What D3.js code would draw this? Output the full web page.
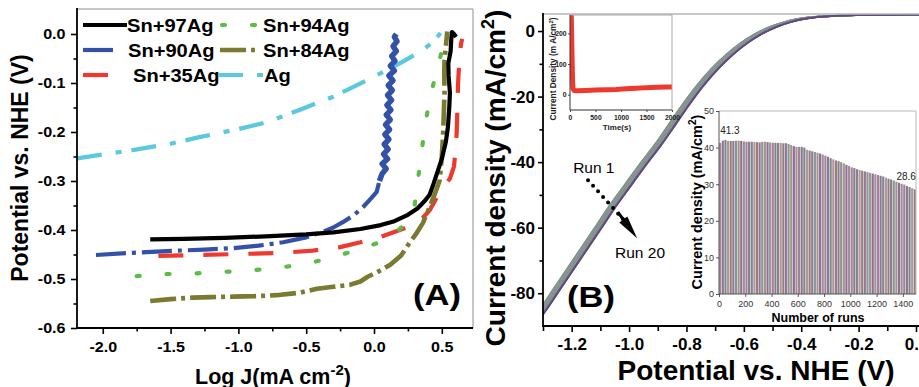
<!DOCTYPE html>
<html><head><meta charset="utf-8">
<script src="https://cdn.jsdelivr.net/npm/d3@7"></script>
<style>body{margin:0;background:#fff}svg{display:block}text{font-family:"Liberation Sans",Arial,sans-serif}</style>
</head><body><svg id="c" width="919" height="387"></svg>
<script>
// ===================== DATA =====================
// Panel A : Tafel-like polarisation curves  [log J, potential V]
const seriesA = ["Sn+97Ag","Sn+94Ag","Sn+90Ag","Sn+84Ag","Sn+35Ag","Ag"];
const sn97 = [[-1.65,-0.419],[-1.4,-0.418],[-1.1,-0.416],[-0.8,-0.413],[-0.5,-0.409],[-0.3,-0.405],[-0.1,-0.398],[0.05,-0.39],[0.15,-0.382],[0.25,-0.369],[0.32,-0.356],[0.37,-0.342],[0.41,-0.328],[0.44,-0.305],[0.47,-0.28],[0.5,-0.255],[0.53,-0.22],[0.545,-0.19],[0.555,-0.15],[0.56,-0.12],[0.55,-0.085],[0.548,-0.06],[0.565,-0.035],[0.57,-0.01],[0.575,0.004],[0.59,0.0],[0.605,-0.006]];
const sn94 = [[-1.75,-0.494],[-1.53,-0.49],[-1.26,-0.488],[-0.89,-0.482],[-0.67,-0.476],[-0.45,-0.466],[-0.3,-0.455],[-0.15,-0.443],[-0.05,-0.434],[0.05,-0.424],[0.12,-0.414],[0.19,-0.398],[0.24,-0.383],[0.28,-0.365],[0.3,-0.349],[0.31,-0.325],[0.33,-0.285],[0.35,-0.243],[0.37,-0.2],[0.39,-0.165],[0.41,-0.135],[0.44,-0.1],[0.47,-0.067],[0.5,-0.035],[0.52,-0.012],[0.54,0.002]];
const sn90 = [[-2.05,-0.451],[-1.82,-0.447],[-1.53,-0.443],[-1.25,-0.44],[-1.04,-0.437],[-0.85,-0.432],[-0.67,-0.425],[-0.5,-0.415],[-0.38,-0.404],[-0.3,-0.395],[-0.23,-0.384],[-0.15,-0.37],[-0.08,-0.353],[-0.02,-0.335],[0.02,-0.322],[0.04,-0.3],[0.06,-0.285],[0.09,-0.275],[0.06,-0.265],[0.1,-0.255],[0.07,-0.245],[0.105,-0.235],[0.075,-0.225],[0.11,-0.215],[0.08,-0.205],[0.115,-0.195],[0.085,-0.185],[0.12,-0.175],[0.09,-0.165],[0.125,-0.155],[0.095,-0.145],[0.13,-0.135],[0.1,-0.125],[0.135,-0.115],[0.105,-0.105],[0.14,-0.095],[0.11,-0.085],[0.15,-0.075],[0.12,-0.065],[0.155,-0.055],[0.13,-0.045],[0.165,-0.035],[0.14,-0.025],[0.17,-0.015],[0.15,-0.006],[0.165,0.0]];
const sn84 = [[-1.65,-0.545],[-1.5,-0.541],[-1.34,-0.538],[-1.2,-0.537],[-1.04,-0.536],[-0.88,-0.535],[-0.72,-0.533],[-0.55,-0.528],[-0.42,-0.52],[-0.3,-0.516],[-0.18,-0.512],[-0.1,-0.505],[-0.05,-0.496],[0.03,-0.485],[0.12,-0.471],[0.2,-0.452],[0.26,-0.427],[0.31,-0.408],[0.36,-0.386],[0.4,-0.36],[0.43,-0.339],[0.46,-0.318],[0.485,-0.298],[0.5,-0.25],[0.51,-0.2],[0.515,-0.16],[0.52,-0.12],[0.518,-0.08],[0.52,-0.053],[0.53,-0.025],[0.54,0.005]];
const sn35 = [[-1.59,-0.453],[-1.3,-0.451],[-1.0,-0.449],[-0.7,-0.447],[-0.45,-0.442],[-0.25,-0.435],[-0.1,-0.425],[0.05,-0.414],[0.17,-0.402],[0.29,-0.39],[0.36,-0.375],[0.41,-0.36],[0.46,-0.335],[0.52,-0.31],[0.56,-0.295],[0.59,-0.27],[0.6,-0.24],[0.61,-0.2],[0.615,-0.15],[0.62,-0.1],[0.628,-0.06],[0.635,-0.035],[0.642,-0.02],[0.65,-0.01]];
const agCurve = [[-2.19,-0.254],[-2.0,-0.246],[-1.78,-0.237],[-1.5,-0.224],[-1.28,-0.21],[-1.0,-0.194],[-0.79,-0.18],[-0.55,-0.155],[-0.3,-0.128],[-0.05,-0.094],[0.19,-0.06],[0.36,-0.033],[0.44,-0.015],[0.49,0.002]];
const aXTicks = [-2.0,-1.5,-1.0,-0.5,0.0,0.5];
const aXMinor = [-1.75,-1.25,-0.75,-0.25,0.25];
const aYTicks = [0.0,-0.1,-0.2,-0.3,-0.4,-0.5,-0.6];
const aYMinor = [-0.05,-0.15,-0.25,-0.35,-0.45,-0.55];

// Panel B : LSV curves over 20 runs
const lsvV = [-1.32,-1.30,-1.25,-1.20,-1.15,-1.10,-1.05,-1.00,-0.95,-0.90,-0.85,-0.80,-0.75,-0.70,-0.65,-0.60,-0.55,-0.50,-0.45,-0.40,-0.35,-0.30,-0.20,-0.10,0.00,0.05];
const lsvJ = [-87.5,-85,-78.5,-72,-65.5,-59,-52.5,-46.5,-40.5,-34.8,-28.5,-22.2,-16.4,-11.4,-7.2,-3.7,-0.9,1.2,2.7,3.7,4.3,4.6,4.85,4.95,5.0,5.0];
const runShift = [-0.012,-0.011,-0.0095,-0.008,-0.007,-0.0055,-0.004,-0.003,-0.0015,0,0.001,0.0025,0.004,0.005,0.0065,0.008,0.009,0.0105,0.0115,0.0125];
const bXTicks = [-1.2,-1.0,-0.8,-0.6,-0.4,-0.2,0.0];
const bXMinor = [-1.3,-1.1,-0.9,-0.7,-0.5,-0.3,-0.1];
const bYTicks = [0,-20,-40,-60,-80];
const bYMinor = [-10,-30,-50,-70];

// Inset (top-left) : chronoamperometry
const tlTime = [18,26,34,42,50,58,80,150,300,500,700,900,1100,1300,1500,1700,1900,2000];
const tlCurr = [300,250,180,110,50,20,14,13,14,15,16,17,19,21,23,24,25,25];
const tlXTicks = [0,500,1000,1500,2000];
const tlYTicks = [0,100,200];

// Inset (bottom-right) : current density vs number of runs (one bar per 20 runs)
const barValues = [41.3,41.9,42.1,41.8,41.8,41.8,41.9,41.9,41.8,41.7,41.6,41.6,41.6,41.5,41.5,41.4,41.6,41.6,41.5,41.4,41.3,41.3,41.3,41.3,41.2,41.2,41.0,40.7,40.4,40.2,40.2,40.2,40.0,39.4,39.2,39.0,38.8,38.6,38.4,38.1,37.8,37.5,37.1,36.8,36.5,36.3,36.0,35.7,35.3,35.0,34.6,34.4,34.1,33.9,33.7,33.5,33.3,33.1,32.9,32.7,32.5,32.3,32.1,31.8,31.5,31.3,31.0,30.7,30.4,30.1,29.9,29.5,29.2,28.9,28.6];
const brXTicks = [0,200,400,600,800,1000,1200,1400];
const brYTicks = [0,10,20,30,40,50];

// ===================== STYLE =====================
const F = '"Liberation Sans", Arial, sans-serif';
const styleA = {
  "Sn+97Ag":{c:"#000000",dash:null,w:4.2,cap:"butt"},
  "Sn+94Ag":{c:"#5cbc48",dash:"3,27",w:4.2,cap:"round"},
  "Sn+90Ag":{c:"#3451a8",dash:"30,6,4,6",w:4.2,cap:"butt"},
  "Sn+84Ag":{c:"#7b7a30",dash:"26,5,4,5",w:4.6,cap:"butt"},
  "Sn+35Ag":{c:"#ee3a2e",dash:"25,20",w:4.2,cap:"butt"},
  "Ag":{c:"#5cc8de",dash:"25,14,6,10",w:4.2,cap:"butt"}
};
const dataA = {"Sn+97Ag":sn97,"Sn+94Ag":sn94,"Sn+90Ag":sn90,"Sn+84Ag":sn84,"Sn+35Ag":sn35,"Ag":agCurve};
const runColors = ["#8a8a8a","#8d8f8d","#7f9a8a","#6f9a8a","#8a9a78","#9b8ca6","#6e9f9f","#8a9a8a","#7fa08a","#a0889c","#6c9486","#8f9a80","#7d8da5","#94a08e","#6f8f7f","#8a9f9f","#9a7a9a","#7a6a8f","#6a5a8a","#5e4a7e"];
const barColors = ["#a88098","#8a7a92","#7a8a84","#b890a8","#8c8676","#9a7490","#80989a","#a69486","#8e6e96","#9a9298"];

const svg = d3.select("#c");
svg.append("rect").attr("width",919).attr("height",387).attr("fill","#fff");
const fmt1 = d => d3.format(".1f")(d).replace("\u2212","-");
const fmt0 = d => d3.format("d")(d).replace("\u2212","-");

function styleAxis(g, o){
  g.select(".domain").remove();
  g.selectAll(".tick line").attr("stroke",o.color||"#000").attr("stroke-width",o.sw||1.6);
  g.selectAll(".tick text").attr("font-family",F).attr("font-size",o.fs||12)
   .attr("font-weight",o.bold?"bold":"normal").attr("fill",o.color||"#000");
  if(o.sx) g.selectAll(".tick text").attr("transform",`scale(${o.sx},1)`);
  return g;
}
function line(x1,y1,x2,y2,c,w){svg.append("line").attr("x1",x1).attr("y1",y1).attr("x2",x2).attr("y2",y2).attr("stroke",c).attr("stroke-width",w);}

// ===================== PANEL A =====================
const xA = d3.scaleLinear().domain([-2.19,0.73]).range([77,473]);
const yA = d3.scaleLinear().domain([-0.6,0.051]).range([328,9]);
svg.append("clipPath").attr("id","clipA").append("rect").attr("x",77).attr("y",9).attr("width",396).attr("height",319);
const lineA = d3.line().x(d=>xA(d[0])).y(d=>yA(d[1]));
const gA = svg.append("g").attr("clip-path","url(#clipA)");
["Sn+35Ag","Sn+84Ag","Sn+94Ag","Ag","Sn+90Ag","Sn+97Ag"].forEach(k=>{
  const s=styleA[k];
  if(k==="Sn+90Ag"){
    // sloped part dash-dot, noisy vertical part rendered as a dense solid band
    const lower = dataA[k].filter(d=>d[1]<=-0.3), upper = dataA[k].filter(d=>d[1]>=-0.3);
    gA.append("path").datum(lower).attr("d",lineA).attr("fill","none").attr("stroke",s.c)
      .attr("stroke-width",s.w).attr("stroke-dasharray",s.dash).attr("stroke-linejoin","round");
    gA.append("path").datum(upper).attr("d",lineA).attr("fill","none").attr("stroke",s.c)
      .attr("stroke-width",5.5).attr("stroke-linejoin","round");
    return;
  }
  gA.append("path").datum(dataA[k]).attr("d",lineA).attr("fill","none")
    .attr("stroke",s.c).attr("stroke-width",s.w).attr("stroke-dasharray",s.dash)
    .attr("stroke-linecap",s.cap).attr("stroke-linejoin","round");
});
// frame
line(77,9,473,9,"#b4b4b4",1.5); line(473,9,473,328,"#b4b4b4",1.5);
line(77,8,77,329,"#000",1.8); line(76,328,473,328,"#000",1.8);
styleAxis(svg.append("g").attr("transform","translate(0,328)").call(d3.axisBottom(xA).tickValues(aXTicks).tickSize(6).tickPadding(8).tickFormat(fmt1)),{fs:14,bold:true,sx:1.15});
styleAxis(svg.append("g").attr("transform","translate(0,328)").call(d3.axisBottom(xA).tickValues(aXMinor).tickSize(3.5).tickFormat("")),{});
styleAxis(svg.append("g").attr("transform","translate(77,0)").call(d3.axisLeft(yA).tickValues(aYTicks).tickSize(6).tickPadding(4).tickFormat(fmt1)),{fs:14,bold:true,sx:1.15});
styleAxis(svg.append("g").attr("transform","translate(77,0)").call(d3.axisLeft(yA).tickValues(aYMinor).tickSize(3.5).tickFormat("")),{});
// titles
svg.append("text").attr("transform","translate(28,168) rotate(-90)").attr("text-anchor","middle")
  .attr("font-size",23).attr("font-weight","bold").text("Potential vs. NHE (V)");
const tA = svg.append("text").attr("x",195).attr("y",384).attr("font-size",21.5).attr("font-weight","bold");
tA.append("tspan").text("Log J(mA cm");
tA.append("tspan").attr("font-size",15).attr("dy",-9).text("-2");
tA.append("tspan").attr("dy",9).text(")");
svg.append("text").attr("transform","translate(413,305) scale(1.15,1)").attr("font-size",30).attr("font-weight","bold").text("(A)");
// legend
const legItems = [
  {k:"Sn+97Ag",x1:83,x2:127,tx:127,y:25},
  {k:"Sn+90Ag",x1:83,x2:116,tx:128,y:50},
  {k:"Sn+35Ag",x1:83,x2:110,tx:133,y:75},
  {k:"Sn+94Ag",x1:222,x2:256,tx:263,y:25},
  {k:"Sn+84Ag",x1:220,x2:257,tx:263,y:50},
  {k:"Ag",x1:218,x2:264,tx:264,y:75}
];
legItems.forEach(it=>{
  const s=styleA[it.k];
  svg.append("line").attr("x1",it.x1).attr("x2",it.x2).attr("y1",it.y).attr("y2",it.y)
    .attr("stroke",s.c).attr("stroke-width",s.w).attr("stroke-dasharray",s.dash).attr("stroke-linecap",s.cap);
  svg.append("text").attr("transform",`translate(${it.tx},${it.y+7}) scale(1.15,1)`)
    .attr("font-size",17.5).attr("font-weight","bold").text(it.k);
});

// ===================== PANEL B =====================
const xB = d3.scaleLinear().domain([-1.3,0.0]).range([543,916]);
const yB = d3.scaleLinear().domain([-90,5.2]).range([326,14]);
svg.append("clipPath").attr("id","clipB").append("rect").attr("x",543).attr("y",14).attr("width",376).attr("height",312);
const gB = svg.append("g").attr("clip-path","url(#clipB)");
runShift.forEach((sh,r)=>{
  const pts = lsvV.map((v,i)=>[v+sh,lsvJ[i]]);
  gB.append("path").datum(pts)
    .attr("d",d3.line().x(d=>xB(d[0])).y(d=>yB(d[1])).curve(d3.curveMonotoneX))
    .attr("fill","none").attr("stroke",runColors[r]).attr("stroke-width",1.7);
});
line(543,14,919,14,"#b4b4b4",1.5);
line(543,13,543,327,"#000",1.8); line(542,326,919,326,"#000",1.8);
styleAxis(svg.append("g").attr("transform","translate(0,326)").call(d3.axisBottom(xB).tickValues(bXTicks).tickSize(6).tickPadding(6).tickFormat(fmt1)),{fs:17,bold:true});
styleAxis(svg.append("g").attr("transform","translate(0,326)").call(d3.axisBottom(xB).tickValues(bXMinor).tickSize(5).tickFormat("")),{});
styleAxis(svg.append("g").attr("transform","translate(543,0)").call(d3.axisLeft(yB).tickValues(bYTicks).tickSize(5).tickPadding(3).tickFormat(fmt0)),{fs:17,bold:true});
styleAxis(svg.append("g").attr("transform","translate(543,0)").call(d3.axisLeft(yB).tickValues(bYMinor).tickSize(3.5).tickFormat("")),{});
const tBy = svg.append("text").attr("transform","translate(505,178) rotate(-90)").attr("text-anchor","middle")
  .attr("font-size",28).attr("font-weight","bold");
tBy.append("tspan").text("Current density (mA/cm");
tBy.append("tspan").attr("font-size",18).attr("dy",-11).text("2");
tBy.append("tspan").attr("dy",11).text(")");
svg.append("text").attr("x",756).attr("y",380).attr("text-anchor","middle").attr("font-size",28).attr("font-weight","bold").text("Potential vs. NHE (V)");
svg.append("text").attr("transform","translate(567,307) scale(1.15,1)").attr("font-size",30).attr("font-weight","bold").text("(B)");
// run annotation (data coordinates)
const arrowFrom = [-1.143,-45.5], arrowTo = [-1.02,-57.5], arrowTip = [-0.972,-63.2];
svg.append("text").attr("x",xB(-1.195)).attr("y",yB(-43.3)).attr("font-size",15.5).text("Run 1");
svg.append("text").attr("x",xB(-1.049)).attr("y",yB(-69.2)).attr("font-size",15.5).text("Run 20");
svg.append("line").attr("x1",xB(arrowFrom[0])).attr("y1",yB(arrowFrom[1])).attr("x2",xB(arrowTo[0])).attr("y2",yB(arrowTo[1]))
  .attr("stroke","#000").attr("stroke-width",4).attr("stroke-linecap","round").attr("stroke-dasharray","0,7.5");
{
  const bx=xB(arrowTo[0]), by=yB(arrowTo[1]), tx=xB(arrowTip[0]), ty=yB(arrowTip[1]);
  const dx=tx-bx, dy=ty-by, L=Math.hypot(dx,dy), nx=-dy/L, ny=dx/L, hw=5;
  svg.append("path").attr("d",`M${bx+nx*hw},${by+ny*hw}L${tx},${ty}L${bx-nx*hw},${by-ny*hw}Z`).attr("fill","#000");
  svg.append("line").attr("x1",bx-dx*0.4).attr("y1",by-dy*0.4).attr("x2",bx).attr("y2",by).attr("stroke","#000").attr("stroke-width",3);
}

// ===================== INSET TOP-LEFT =====================
const xT = d3.scaleLinear().domain([0,2000]).range([570,672]);
const yT = d3.scaleLinear().domain([-50,260]).range([110,15]);
svg.append("rect").attr("x",570).attr("y",15).attr("width",102).attr("height",95).attr("fill","#fff");
svg.append("clipPath").attr("id","clipT").append("rect").attr("x",570).attr("y",15).attr("width",102).attr("height",95);
svg.append("path").datum(tlTime.map((t,i)=>[t,tlCurr[i]])).attr("clip-path","url(#clipT)")
  .attr("d",d3.line().x(d=>xT(d[0])).y(d=>yT(d[1]))).attr("fill","none").attr("stroke","#ee3a2e").attr("stroke-width",5).attr("stroke-linejoin","round");
line(570,15,672,15,"#a8a8a8",1); line(672,15,672,110,"#a8a8a8",1);
line(570,15,570,110,"#333",1); line(570,110,672,110,"#333",1);
styleAxis(svg.append("g").attr("transform","translate(0,110)").call(d3.axisBottom(xT).tickValues(tlXTicks).tickSize(2).tickPadding(3).tickFormat(fmt0)),{fs:6.8,bold:true,sw:0.8,color:"#222"});
styleAxis(svg.append("g").attr("transform","translate(570,0)").call(d3.axisLeft(yT).tickValues(tlYTicks).tickSize(2).tickPadding(1.5).tickFormat(fmt0)),{fs:6.8,bold:true,sw:0.8,color:"#222"});
svg.append("text").attr("x",617).attr("y",130).attr("text-anchor","middle").attr("font-size",8).attr("font-weight","bold").attr("fill","#222").text("Time(s)");
const tTy = svg.append("text").attr("transform","translate(556,69) rotate(-90)").attr("text-anchor","middle").attr("font-size",8.3).attr("font-weight","bold").attr("fill","#222");
tTy.append("tspan").text("Current Density (m A/cm");
tTy.append("tspan").attr("font-size",6).attr("dy",-3.5).text("2");
tTy.append("tspan").attr("dy",3.5).text(")");

// ===================== INSET BOTTOM-RIGHT =====================
const xR = d3.scaleLinear().domain([0,1500]).range([719,916]);
const yR = d3.scaleLinear().domain([0,50]).range([294,111]);
const bandR = d3.scaleBand().domain(d3.range(barValues.length)).range([xR(0),xR(1500)]).paddingInner(0.18).paddingOuter(0.05);
svg.append("rect").attr("x",719).attr("y",111).attr("width",197).attr("height",183).attr("fill","#fff");
svg.append("g").selectAll("rect").data(barValues).join("rect")
  .attr("x",(d,i)=>bandR(i)).attr("width",bandR.bandwidth())
  .attr("y",d=>yR(d)).attr("height",d=>yR(0)-yR(d))
  .attr("fill",(d,i)=>barColors[i%barColors.length]);
line(719,111,916,111,"#b8b8b8",1); line(916,111,916,294,"#b8b8b8",1);
line(719,111,719,294,"#555",1); line(719,294,916,294,"#555",1);
styleAxis(svg.append("g").attr("transform","translate(0,294)").call(d3.axisBottom(xR).tickValues(brXTicks).tickSize(3).tickPadding(4).tickFormat(fmt0)),{fs:9,sw:0.8,color:"#333"});
styleAxis(svg.append("g").attr("transform","translate(719,0)").call(d3.axisLeft(yR).tickValues(brYTicks).tickSize(3).tickPadding(2).tickFormat(fmt0)),{fs:9,sw:0.8,color:"#333"});
svg.append("text").attr("x",818).attr("y",322).attr("text-anchor","middle").attr("font-size",12.5).attr("font-weight","bold").text("Number of runs");
const tRy = svg.append("text").attr("transform","translate(702,202) rotate(-90)").attr("text-anchor","middle").attr("font-size",14.5).attr("font-weight","bold");
tRy.append("tspan").text("Current density (mA/cm");
tRy.append("tspan").attr("font-size",10).attr("dy",-6).text("2");
tRy.append("tspan").attr("dy",6).text(")");
const firstV = barValues[0], lastV = barValues[barValues.length-1];
svg.append("text").attr("x",bandR(0)+1).attr("y",yR(firstV)-9).attr("font-size",10).attr("fill","#222").text(d3.format(".1f")(firstV));
svg.append("text").attr("x",bandR(barValues.length-1)+bandR.bandwidth()).attr("y",yR(lastV)-9).attr("text-anchor","end").attr("font-size",10).attr("fill","#222").text(d3.format(".1f")(lastV));
</script></body></html>
